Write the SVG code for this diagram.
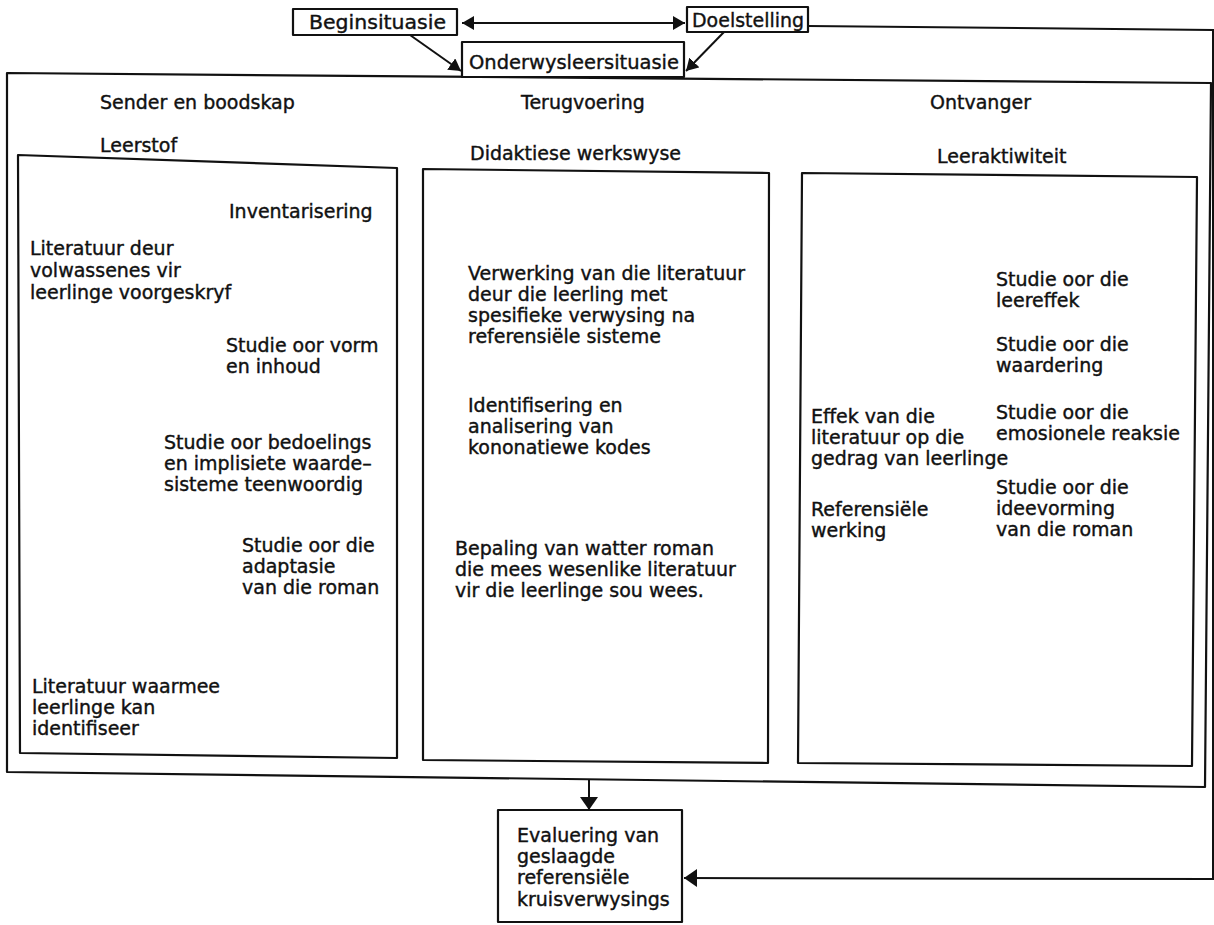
<svg xmlns="http://www.w3.org/2000/svg" width="1214" height="925" viewBox="0 0 1214 925">
<style>
text{font-family:"DejaVu Sans","Liberation Sans",sans-serif;font-size:19px;fill:#111;stroke:#111;stroke-width:0.4}
.lbl{font-size:20px}
.box{fill:#fff;stroke:#111;stroke-width:2.2;stroke-linejoin:round}
.frame{fill:none;stroke:#111;stroke-width:2.2;stroke-linejoin:round}
.con{fill:none;stroke:#111;stroke-width:2}
</style>
<defs>
<marker id="ah" viewBox="0 0 12 14" refX="12" refY="7" markerWidth="12" markerHeight="14" markerUnits="userSpaceOnUse" orient="auto-start-reverse">
<path d="M0,0 L12,7 L0,14 z" fill="#111"/>
</marker>
<marker id="ahb" viewBox="0 0 13 18" refX="13" refY="9" markerWidth="13" markerHeight="18" markerUnits="userSpaceOnUse" orient="auto">
<path d="M0,0 L13,9 L0,18 z" fill="#111"/>
</marker>
</defs>
<rect width="1214" height="925" fill="#fff"/>

<g id="connectors">
<line class="con" x1="462" y1="23" x2="685" y2="23" marker-start="url(#ah)" marker-end="url(#ah)"/>
<line class="con" x1="410" y1="35" x2="461" y2="71" marker-end="url(#ah)"/>
<line class="con" x1="724" y1="32" x2="686" y2="71" marker-end="url(#ah)"/>
<polyline class="con" points="808,26 1213,30 1213,879 684,878" marker-end="url(#ahb)"/>
<line class="con" x1="589" y1="780" x2="589" y2="810" marker-end="url(#ahb)"/>
</g>

<g id="outer-frame">
<path class="frame" d="M7,73 L1211,83 L1205,787 L7,772 Z"/>
</g>

<g id="beginsituasie">
<rect class="box" x="293" y="9" width="164" height="26"/>
<text class="lbl" x="309" y="29" textLength="137" lengthAdjust="spacingAndGlyphs">Beginsituasie</text>
</g>
<g id="doelstelling">
<rect class="box" x="687" y="7" width="121" height="25"/>
<text class="lbl" x="692" y="27" textLength="112" lengthAdjust="spacingAndGlyphs">Doelstelling</text>
</g>
<g id="onderwysleersituasie">
<rect class="box" x="462" y="42" width="222" height="35"/>
<text class="lbl" x="469" y="69" textLength="210" lengthAdjust="spacingAndGlyphs">Onderwysleersituasie</text>
</g>

<g id="headers">
<text x="100" y="109">Sender en boodskap</text>
<text x="521" y="109">Terugvoering</text>
<text x="930" y="109">Ontvanger</text>
<text x="100" y="152">Leerstof</text>
<text x="470" y="160">Didaktiese werkswyse</text>
<text x="937" y="163">Leeraktiwiteit</text>
</g>

<g id="leerstof">
<path class="frame" d="M18,155 L397,168 L397,758 L20,753 Z"/>
<text x="229" y="218">Inventarisering</text>
<text x="30" y="255">Literatuur deur<tspan x="30" dy="22">volwassenes vir</tspan><tspan x="30" dy="22">leerlinge voorgeskryf</tspan></text>
<text x="226" y="352">Studie oor vorm<tspan x="226" dy="21">en inhoud</tspan></text>
<text x="164" y="449">Studie oor bedoelings<tspan x="164" dy="21">en implisiete waarde–</tspan><tspan x="164" dy="21">sisteme teenwoordig</tspan></text>
<text x="242" y="552">Studie oor die<tspan x="242" dy="21">adaptasie</tspan><tspan x="242" dy="21">van die roman</tspan></text>
<text x="32" y="693">Literatuur waarmee<tspan x="32" dy="21">leerlinge kan</tspan><tspan x="32" dy="21">identifiseer</tspan></text>
</g>

<g id="didaktiese-werkswyse">
<path class="frame" d="M423,169 L769,173 L768,763 L423,760 Z"/>
<text x="468" y="280">Verwerking van die literatuur<tspan x="468" dy="21">deur die leerling met</tspan><tspan x="468" dy="21">spesifieke verwysing na</tspan><tspan x="468" dy="21">referensiële sisteme</tspan></text>
<text x="468" y="412">Identifisering en<tspan x="468" dy="21">analisering van</tspan><tspan x="468" dy="21">kononatiewe kodes</tspan></text>
<text x="455" y="555">Bepaling van watter roman<tspan x="455" dy="21">die mees wesenlike literatuur</tspan><tspan x="455" dy="21">vir die leerlinge sou wees.</tspan></text>
</g>

<g id="leeraktiwiteit">
<path class="frame" d="M802,173 L1197,177 L1192,766 L798,763 Z"/>
<text x="996" y="286">Studie oor die<tspan x="996" dy="21">leereffek</tspan></text>
<text x="996" y="351">Studie oor die<tspan x="996" dy="21">waardering</tspan></text>
<text x="811" y="423">Effek van die<tspan x="811" dy="21">literatuur op die</tspan><tspan x="811" dy="21">gedrag van leerlinge</tspan></text>
<text x="996" y="419">Studie oor die<tspan x="996" dy="21">emosionele reaksie</tspan></text>
<text x="996" y="494">Studie oor die<tspan x="996" dy="21">ideevorming</tspan><tspan x="996" dy="21">van die roman</tspan></text>
<text x="811" y="516">Referensiële<tspan x="811" dy="21">werking</tspan></text>
</g>

<g id="evaluering">
<rect class="box" x="498" y="810" width="184" height="112"/>
<text x="517" y="842">Evaluering van<tspan x="517" dy="21">geslaagde</tspan><tspan x="517" dy="21">referensiële</tspan><tspan x="517" dy="22">kruisverwysings</tspan></text>
</g>
</svg>
